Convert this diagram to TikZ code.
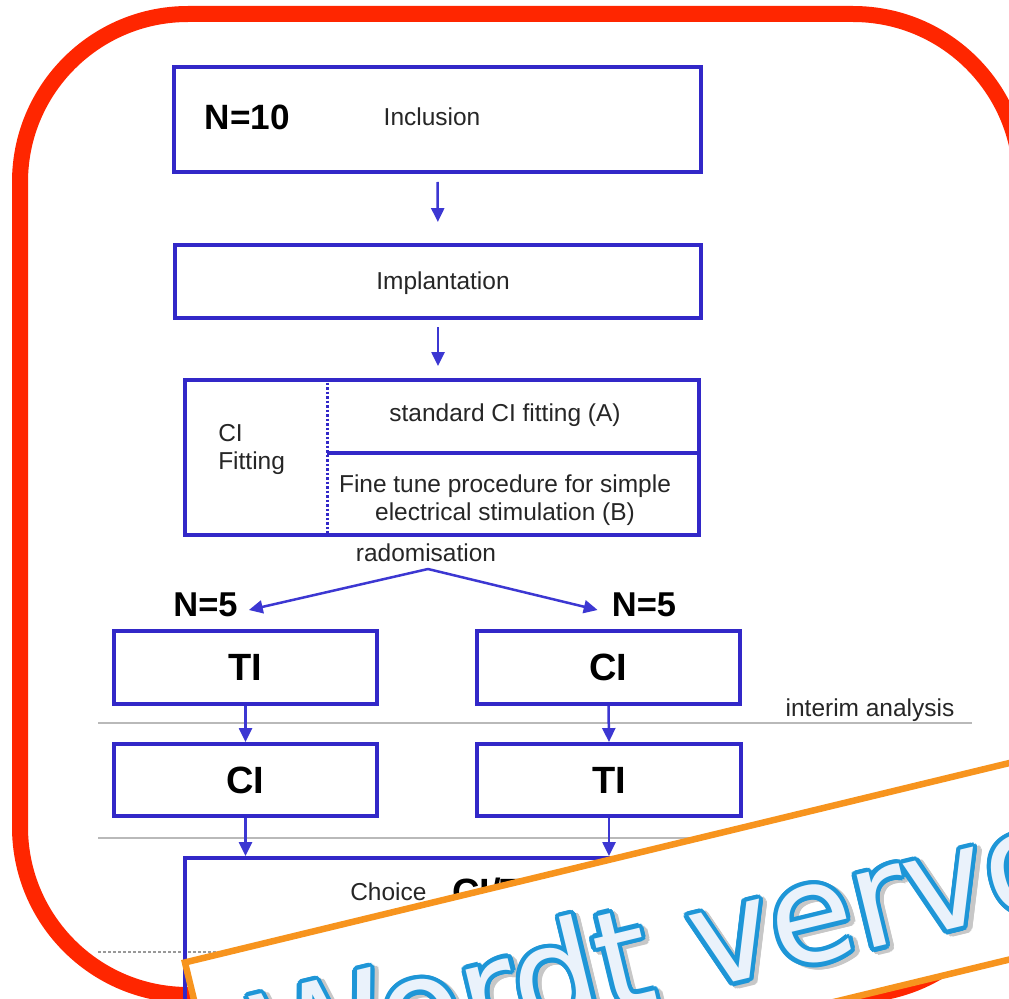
\documentclass[tikz,border=0pt]{standalone}
\usepackage{fontspec}
\setmainfont{Liberation Sans}
\newfontfamily\wordart{DejaVu Sans}
\usetikzlibrary{arrows.meta}
\newlength\PX \setlength\PX{0.025cm}
\definecolor{framered}{RGB}{255,38,0}
\definecolor{boxblue}{RGB}{50,40,200}
\definecolor{arrblue}{RGB}{60,55,210}
\definecolor{gline}{RGB}{185,185,185}
\definecolor{orng}{RGB}{247,148,30}
\definecolor{wablue}{RGB}{30,150,215}
\definecolor{wafill}{RGB}{234,242,251}
\newcommand\wordtxt{Wordt vervolgd}
\begin{document}
\begin{tikzpicture}[x=0.025cm,y=-0.025cm,
  >={Triangle[length=9.9pt,width=9.2pt]},
  box/.style={draw=boxblue, line width=4\PX, inner sep=0pt},
  flow/.style={draw=arrblue, line width=2.5\PX, ->, fill=arrblue},
  small/.style={font=\fontsize{17.4}{19.6}\selectfont, text=black!85, inner sep=0pt},
  big/.style={font=\bfseries\fontsize{27}{30}\selectfont, text=black, inner sep=0pt},
  mid/.style={font=\bfseries\fontsize{24.5}{28}\selectfont, text=black, inner sep=0pt},
  sepline/.style={draw=gline, line width=2.5\PX},
  wa/.style={anchor=base west, rotate=13.6, inner sep=0pt, font=\wordart\fontsize{97}{102}\selectfont}]
\clip (0,0) rectangle (1009,999);
\fill[white] (0,0) rectangle (1009,999);
% red frame
\draw[framered, line width=16\PX, rounded corners=168\PX] (20,14) rectangle (1021,995);

% separators
\coordinate (s1l) at (98,723); \coordinate (s1r) at (972,723);
\coordinate (s2l) at (98,838); \coordinate (s2r) at (800,838);
\coordinate (s3l) at (98,952); \coordinate (s3r) at (400,952);
\draw[sepline] (s1l) -- (s1r);
\draw[sepline] (s2l) -- (s2r);
\draw[draw=gray!80, line width=2\PX, dash pattern=on 3\PX off 2\PX] (s3l) -- (s3r);

% inclusion
\node[box, minimum width=527\PX, minimum height=105\PX] (incl) at (437.5,119.5) {};
\node[mid, font=\bfseries\fontsize{25}{28}\selectfont] (n10) at (247.5,117) {N=10};
\node[small] (inclt) at (432,117) {Inclusion};
% implantation
\node[box, minimum width=526\PX, minimum height=73\PX] (impl) at (438,281.5) {};
\node[small, anchor=base] (implt) at (443,289) {Implantation};
% CI fitting
\node[box, minimum width=514\PX, minimum height=155\PX] (fit) at (442,457.5) {};
\coordinate (dv) at (327,0);
\coordinate (hl) at (0,453);
\draw[boxblue, line width=3\PX, dash pattern=on 2.5\PX off 2\PX] (fit.north -| dv) -- (fit.south -| dv);
\draw[boxblue, line width=3.5\PX] (dv |- hl) -- (fit.east |- hl);
\node[small, anchor=base west, align=left] (cifit) at (218,469) {CI\\Fitting};
\node[small, anchor=base] (stdfit) at (505,421) {standard CI fitting (A)};
\node[small, anchor=base, align=center] (fine) at (505,520) {Fine tune procedure for simple\\electrical stimulation (B)};

\draw[flow, shorten <=8\PX, shorten >=21\PX] (incl.south) -- (impl.north);
\draw[flow, shorten <=7\PX, shorten >=12\PX] (impl.south) -- (impl.south |- fit.north);

% randomisation
\node[small, anchor=base] (rand) at (426,561) {radomisation};
\coordinate (apex) at (428,569);
\node[mid] (n5l) at (205.5,605) {N=5};
\node[mid] (n5r) at (644,605) {N=5};
\draw[flow] (apex) -- ([shift={(11,5)}]n5l.east);
\draw[flow] (apex) -- ([shift={(-14,5)}]n5r.west);

% arms
\node[box, big, minimum width=263\PX, minimum height=73\PX] (ti1) at (245.5,667.5) {TI};
\node[box, big, minimum width=263\PX, minimum height=73\PX] (ci1) at (608.5,667.5) {CI};
\node[small, anchor=base] (ia) at (870,716) {interim analysis};
\node[box, big, minimum width=263\PX, minimum height=72\PX] (ci2) at (245.5,780) {CI};
\node[box, big, minimum width=264\PX, minimum height=72\PX] (ti2) at (609,780) {TI};
\draw[flow] (ti1.south) -- (ci2.north);
\draw[flow] (ci1.south) -- (ti2.north);

% choice
\node[box, minimum width=515\PX, minimum height=172\PX] (choice) at (442.5,944) {};
\draw[flow] (ci2.south) -- (ci2.south |- choice.north);
\draw[flow] (ti2.south) -- (ti2.south |- choice.north);
\node[small, anchor=base west] (ch) at (350,900) {Choice};
\node[big, anchor=base west] (citi) at (452,905) {CI/TI};

% overlay banner
\begin{scope}[rotate=13.6]
  \fill[white] (-46.5,979) rectangle (1500,1170);
  \draw[orng, line width=6.5\PX] (-46.5,979) rectangle (1500,1170);
  \foreach \a in {0,20,...,340} {
    \path (2,1127) ++(3.5,3.5) ++(\a:4.5\PX) node[wa, text=black!22] (was\a) {\wordtxt};
  }
  \foreach \a in {0,20,...,340} {
    \path (2,1127) ++(\a:4.5\PX) node[wa, text=wablue] (wao\a) {\wordtxt};
  }
  \node[wa, text=wafill] (wat) at (2,1127) {\wordtxt};
\end{scope}
\end{tikzpicture}
\end{document}
